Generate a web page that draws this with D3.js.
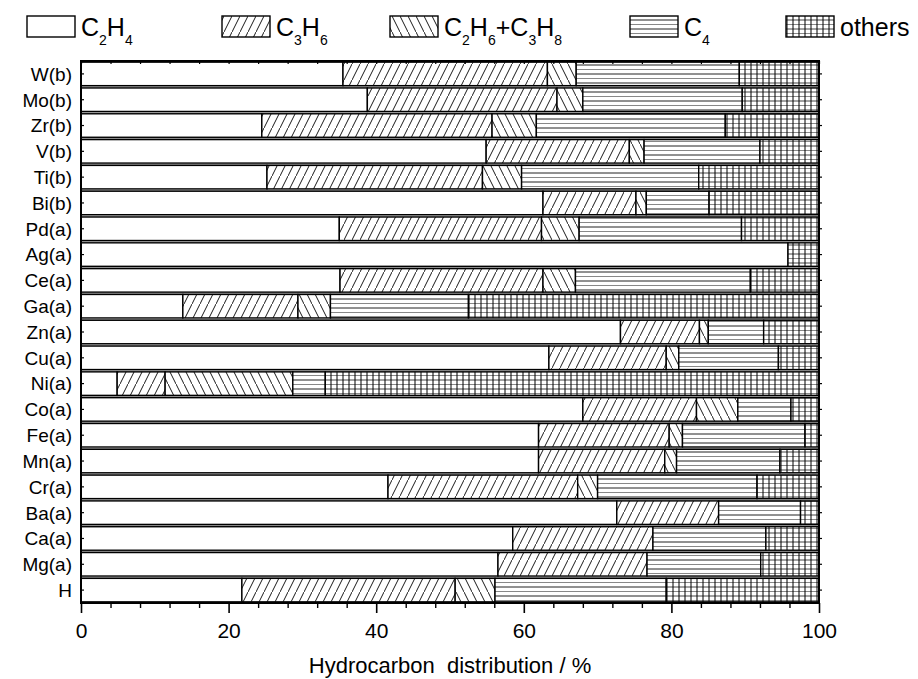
<!DOCTYPE html>
<html>
<head>
<meta charset="utf-8">
<script src="https://cdn.jsdelivr.net/npm/d3@7"></script>
<style>
  html, body { margin: 0; padding: 0; background: #fff; }
  svg { display: block; font-family: "Liberation Sans", Arial, sans-serif; }
</style>
</head>
<body>
<svg id="chart" width="918" height="679"></svg>
<script>
// Catalysts, top to bottom
const categories = ["W(b)","Mo(b)","Zr(b)","V(b)","Ti(b)","Bi(b)","Pd(a)","Ag(a)","Ce(a)","Ga(a)","Zn(a)","Cu(a)","Ni(a)","Co(a)","Fe(a)","Mn(a)","Cr(a)","Ba(a)","Ca(a)","Mg(a)","H"];

// Product shares in % for each catalyst
const c2h4   = [35.5,38.8,24.5,54.9,25.2,62.6,35.0,95.8,35.1,13.8,73.1,63.4, 4.9,68.0,62.0,62.0,41.6,72.6,58.5,56.5,21.8];
const c3h6   = [27.7,25.7,31.2,19.4,29.2,12.6,27.4, 0.0,27.5,15.6,10.7,15.9, 6.5,15.4,17.7,17.1,25.7,13.8,19.0,20.2,28.9];
const c2c3   = [ 3.9, 3.5, 6.0, 2.0, 5.3, 1.4, 5.1, 0.0, 4.4, 4.4, 1.2, 1.7,17.3, 5.6, 1.8, 1.6, 2.7, 0.0, 0.0, 0.0, 5.4];
const c4     = [22.1,21.6,25.6,15.7,24.0, 8.5,22.0, 0.0,23.7,18.7, 7.5,13.5, 4.4, 7.2,16.6,14.0,21.6,11.1,15.3,15.4,23.2];
const others = [10.8,10.4,12.7, 8.0,16.3,14.9,10.5, 4.2, 9.3,47.5, 7.5, 5.5,66.9, 3.8, 1.9, 5.3, 8.4, 2.5, 7.2, 7.9,20.7];

const xTicks = [0, 20, 40, 60, 80, 100];
const seriesKeys = ["c2h4", "c3h6", "c2c3", "c4", "others"];

const rows = categories.map((c, i) => ({
  cat: c, c2h4: c2h4[i], c3h6: c3h6[i], c2c3: c2c3[i], c4: c4[i], others: others[i]
}));

const svg = d3.select("#chart");
const defs = svg.append("defs");

// Hatch fills
const pDiag = defs.append("pattern").attr("id", "p-c3h6")
  .attr("patternUnits", "userSpaceOnUse").attr("width", 8).attr("height", 16);
pDiag.append("rect").attr("width", 8).attr("height", 16).attr("fill", "#fff");
pDiag.append("line").attr("x1", -1).attr("y1", 18).attr("x2", 9).attr("y2", -2)
  .attr("stroke", "#000").attr("stroke-width", 0.9);

const pBack = defs.append("pattern").attr("id", "p-c2c3")
  .attr("patternUnits", "userSpaceOnUse").attr("width", 8).attr("height", 16);
pBack.append("rect").attr("width", 8).attr("height", 16).attr("fill", "#fff");
pBack.append("line").attr("x1", -1).attr("y1", -2).attr("x2", 9).attr("y2", 18)
  .attr("stroke", "#000").attr("stroke-width", 0.9);

const pHor = defs.append("pattern").attr("id", "p-c4")
  .attr("patternUnits", "userSpaceOnUse").attr("width", 8).attr("height", 9);
pHor.append("rect").attr("width", 8).attr("height", 9).attr("fill", "#fff");
pHor.append("line").attr("x1", 0).attr("y1", 2).attr("x2", 8).attr("y2", 2)
  .attr("stroke", "#222").attr("stroke-width", 1);
pHor.append("line").attr("x1", 0).attr("y1", 6.5).attr("x2", 8).attr("y2", 6.5)
  .attr("stroke", "#888").attr("stroke-width", 1);

const pGrid = defs.append("pattern").attr("id", "p-others")
  .attr("patternUnits", "userSpaceOnUse").attr("width", 6).attr("height", 9);
pGrid.append("rect").attr("width", 6).attr("height", 9).attr("fill", "#fff");
pGrid.append("line").attr("x1", 0).attr("y1", 2).attr("x2", 6).attr("y2", 2)
  .attr("stroke", "#444").attr("stroke-width", 1);
pGrid.append("line").attr("x1", 0).attr("y1", 6.5).attr("x2", 6).attr("y2", 6.5)
  .attr("stroke", "#888").attr("stroke-width", 1);
pGrid.append("line").attr("x1", 1).attr("y1", 0).attr("x2", 1).attr("y2", 9)
  .attr("stroke", "#000").attr("stroke-width", 1);

const fills = {
  c2h4: "#fff", c3h6: "url(#p-c3h6)", c2c3: "url(#p-c2c3)", c4: "url(#p-c4)", others: "url(#p-others)"
};

// Plot area
const plotLeft = 81, plotRight = 819, plotTop = 61, plotBottom = 603;

const x = d3.scaleLinear().domain([0, 100]).range([plotLeft, plotRight]);
const y = d3.scaleBand().domain(categories).range([plotTop, plotBottom])
  .paddingInner(0.09).paddingOuter(0.045);

const stack = d3.stack().keys(seriesKeys);
const layers = stack(rows);

// thin grey rule under every bar
svg.append("g").selectAll("line").data(categories).join("line")
  .attr("x1", plotLeft).attr("x2", plotRight)
  .attr("y1", d => y(d) + y.bandwidth() + 1.4)
  .attr("y2", d => y(d) + y.bandwidth() + 1.4)
  .attr("stroke", "#999").attr("stroke-width", 1.4);

const barG = svg.append("g");
layers.forEach(layer => {
  barG.append("g").selectAll("rect")
    .data(layer.filter(d => d[1] - d[0] > 0))
    .join("rect")
    .attr("x", d => x(d[0]))
    .attr("y", d => y(d.data.cat))
    .attr("width", d => x(d[1]) - x(d[0]))
    .attr("height", y.bandwidth())
    .attr("fill", fills[layer.key])
    .attr("stroke", "#000")
    .attr("stroke-width", 1.4);
});

// Axes
const minorTicks = d3.range(0, 101, 4);
const bottomAxis = svg.append("g").attr("transform", `translate(0,${plotBottom})`)
  .call(d3.axisBottom(x).tickValues(xTicks).tickSize(10).tickSizeOuter(0).tickFormat(d3.format("d")));
bottomAxis.select(".domain").remove();
bottomAxis.selectAll(".tick line").attr("stroke-width", 1.6);
bottomAxis.selectAll(".tick text").attr("font-size", 21).attr("y", 15).attr("dy", "0.95em")
  .attr("font-family", "Liberation Sans, Arial, sans-serif").attr("fill", "#000");

const bottomMinor = svg.append("g").attr("transform", `translate(0,${plotBottom})`)
  .call(d3.axisBottom(x).tickValues(minorTicks.filter(v => v % 20 !== 0)).tickSize(5).tickFormat(""));
bottomMinor.select(".domain").remove();
bottomMinor.selectAll(".tick line").attr("stroke-width", 1.4);

const topAxis = svg.append("g").attr("transform", `translate(0,${plotTop})`)
  .call(d3.axisBottom(x).tickValues(minorTicks).tickSize(3).tickFormat(""));
topAxis.select(".domain").remove();
topAxis.selectAll(".tick line").attr("stroke-width", 1.2);

const leftAxis = svg.append("g").attr("transform", `translate(${plotLeft},0)`)
  .call(d3.axisRight(y).tickSize(3).tickFormat(""));
leftAxis.select(".domain").remove();
leftAxis.selectAll(".tick line").attr("stroke-width", 1.2);

const rightAxis = svg.append("g").attr("transform", `translate(${plotRight},0)`)
  .call(d3.axisRight(y).tickSize(3).tickFormat(""));
rightAxis.select(".domain").remove();
rightAxis.selectAll(".tick line").attr("stroke-width", 1.2);

// Category labels
svg.append("g").selectAll("text").data(categories).join("text")
  .attr("x", 72)
  .attr("y", d => y(d) + y.bandwidth() / 2)
  .attr("dy", "0.36em")
  .attr("text-anchor", "end")
  .attr("font-size", 19)
  .attr("fill", "#000")
  .text(d => d);

// Frame
svg.append("rect").attr("x", plotLeft).attr("y", plotTop)
  .attr("width", plotRight - plotLeft).attr("height", plotBottom - plotTop)
  .attr("fill", "none").attr("stroke", "#000").attr("stroke-width", 2);

// Axis title
svg.append("text").attr("x", 450).attr("y", 673)
  .attr("text-anchor", "middle").attr("font-size", 22).attr("fill", "#000")
  .attr("xml:space", "preserve")
  .text("Hydrocarbon  distribution / %");

// Legend
const legendItems = [
  { key: "c2h4",   x: 27,  parts: [["C",0],["2",1],["H",0],["4",1]] },
  { key: "c3h6",   x: 222, parts: [["C",0],["3",1],["H",0],["6",1]] },
  { key: "c2c3",   x: 390, parts: [["C",0],["2",1],["H",0],["6",1],["+C",0],["3",1],["H",0],["8",1]] },
  { key: "c4",     x: 630, parts: [["C",0],["4",1]] },
  { key: "others", x: 786, parts: [["others",0]] }
];
const lg = svg.append("g");
legendItems.forEach(it => {
  lg.append("rect").attr("x", it.x).attr("y", 16).attr("width", 48).attr("height", 21)
    .attr("fill", fills[it.key]).attr("stroke", "#000").attr("stroke-width", 1.4);
  const t = lg.append("text").attr("x", it.x + 54).attr("y", 36)
    .attr("font-size", 25).attr("fill", "#000");
  let sub = false;
  it.parts.forEach(([s, isSub]) => {
    const span = t.append("tspan").text(s);
    if (isSub && !sub) { span.attr("dy", 9).attr("font-size", 14); sub = true; }
    else if (isSub) { span.attr("font-size", 14); }
    else if (!isSub && sub) { span.attr("dy", -9); sub = false; }
  });
});
</script>
</body>
</html>
